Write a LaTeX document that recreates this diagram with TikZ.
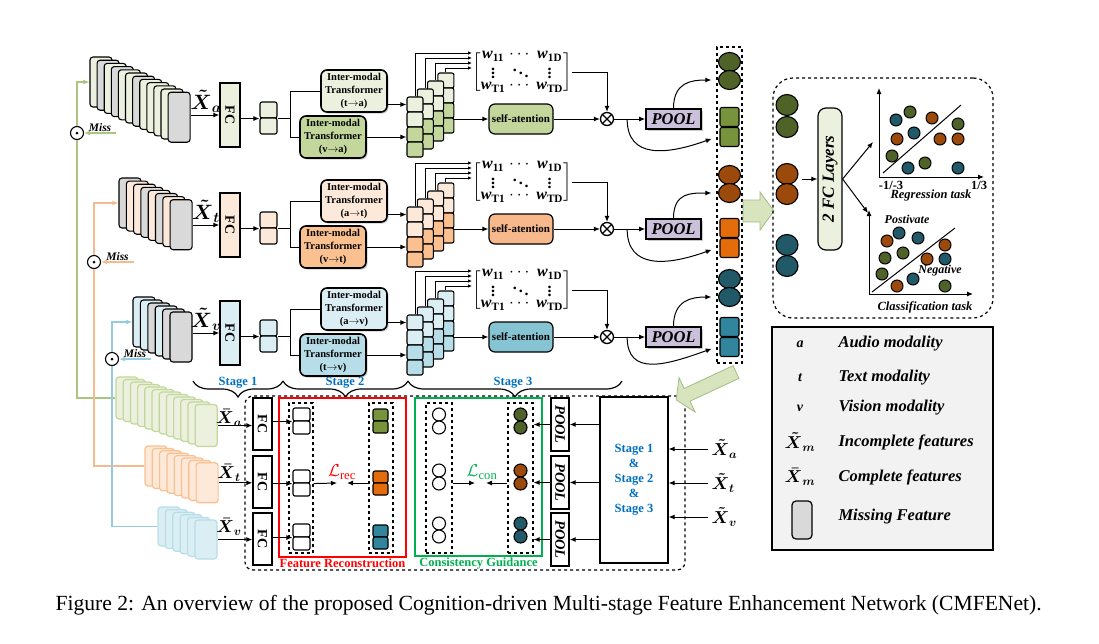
\documentclass[tikz,border=0pt]{standalone}
\usepackage{amsmath, amssymb}
\usepackage{fontspec}
\setmainfont{Liberation Serif}
\usepackage{xcolor}
\usetikzlibrary{shapes, arrows.meta, positioning, calc, shadows, decorations.pathreplacing}
\definecolor{lightA}{HTML}{EBF1DE}
\definecolor{midA}{HTML}{C3D69B}
\definecolor{attA}{HTML}{C3D69B}
\definecolor{circA}{HTML}{4F6228}
\definecolor{sqA}{HTML}{77933C}
\definecolor{lineA}{HTML}{A9C57F}
\definecolor{lightT}{HTML}{FDE9D9}
\definecolor{midT}{HTML}{FAC090}
\definecolor{attT}{HTML}{F7B98C}
\definecolor{circT}{HTML}{9C4A0C}
\definecolor{sqT}{HTML}{E46C0A}
\definecolor{lineT}{HTML}{F7BA8E}
\definecolor{lightV}{HTML}{DBEEF4}
\definecolor{midV}{HTML}{B7DEE8}
\definecolor{attV}{HTML}{86C4D4}
\definecolor{circV}{HTML}{215968}
\definecolor{sqV}{HTML}{31859C}
\definecolor{lineV}{HTML}{93CDDD}
\definecolor{grayc}{HTML}{D9D9D9}
\definecolor{poolc}{HTML}{CCC1DA}
\definecolor{blkfill}{HTML}{D7E4BD}
\definecolor{blkdraw}{HTML}{A3BC86}
\definecolor{stageblue}{HTML}{0070C0}
\definecolor{consgreen}{HTML}{00B050}
\definecolor{legendbg}{HTML}{F2F2F2}
\newcommand{\fsz}[2]{\fontsize{#1}{#2}\selectfont}
\newcommand{\wsub}[1]{\textbf{\textit{w}}_{\textbf{#1}}}
\newcommand{\wmatrix}{{\renewcommand{\arraystretch}{0.7}\setlength{\arraycolsep}{2pt}$\left[\begin{matrix}\wsub{11}&\cdots&\wsub{1D}\\\vdots&\ddots&\vdots\\\wsub{T1}&\cdots&\wsub{TD}\end{matrix}\right]$}}
\tikzset{
    arr/.style={-{Latex[length=6pt, width=5pt]}},
    arrs/.style={-{Latex[length=4pt, width=3.5pt]}},
    card/.style={
        draw,
        rounded corners=3pt,
        line width=1.1pt,
        minimum width=22pt,
        minimum height=50pt,
        inner sep=0pt,
    },
    cardb/.style={
        rounded corners=3pt,
        line width=1.2pt,
        minimum width=22pt,
        inner sep=0pt,
    },
    fcbox/.style={
        draw,
        line width=1.4pt,
        minimum width=20pt,
        minimum height=64pt,
        inner sep=0pt,
        font=\fsz{14}{14}\bfseries,
    },
    cell/.style={
        draw,
        rounded corners=2pt,
        line width=1.1pt,
        minimum width=16pt,
        minimum height=15pt,
        inner sep=0pt,
    },
    trans/.style={
        draw,
        rounded corners=6pt,
        line width=1.6pt,
        minimum width=66pt,
        minimum height=42pt,
        inner sep=0pt,
        align=center,
        font=\fsz{10.5}{13}\bfseries,
        drop shadow={shadow xshift=1.5pt, shadow yshift=-1.5pt, opacity=0.4},
    },
    attn/.style={
        draw,
        rounded corners=6pt,
        line width=1.2pt,
        minimum width=64pt,
        minimum height=30pt,
        inner sep=0pt,
        font=\fsz{11}{13}\bfseries,
    },
    pool/.style={
        draw,
        line width=1.6pt,
        fill=poolc,
        minimum width=55pt,
        minimum height=20pt,
        inner sep=0pt,
        font=\fsz{16.5}{17}\bfseries\itshape,
        drop shadow={shadow xshift=1.5pt, shadow yshift=-1.5pt, opacity=0.4},
    },
    otimes/.style={
        circle,
        draw,
        line width=1.3pt,
        minimum size=13pt,
        inner sep=0pt,
        fill=white,
        path picture={\draw[black, line width=1.1pt] (path picture bounding box.north west) -- (path picture bounding box.south east)
            (path picture bounding box.north east) -- (path picture bounding box.south west);},
    },
    odot/.style={
        circle,
        draw,
        line width=1.1pt,
        minimum size=13pt,
        inner sep=0pt,
        fill=white,
        path picture={\fill[black] (path picture bounding box.center) circle (1.5pt);},
    },
    bigcirc/.style={ellipse, draw, line width=1.1pt, minimum width=22pt, minimum height=19pt, inner sep=0pt},
    bigsq/.style={draw, rounded corners=2pt, line width=1.1pt, minimum size=19pt, inner sep=0pt},
    dashcol/.style={draw, dashed, line width=1.2pt, inner sep=0pt},
    wmat/.style={inner sep=0pt, font=\fsz{16}{16}\bfseries},
    misstext/.style={font=\fsz{11.5}{12}\bfseries\itshape, text=black, inner sep=1pt},
    dot/.style={circle, draw, line width=1pt, minimum size=12pt, inner sep=0pt},
    smallc/.style={circle, draw, line width=1.1pt, minimum size=13pt, inner sep=0pt},
    stagelbl/.style={font=\fsz{12.5}{13}\bfseries, text=stageblue, inner sep=0pt},
    plotlbl/.style={font=\fsz{12.5}{13}\bfseries\itshape, inner sep=1pt},
    lgtext/.style={anchor=west, font=\fsz{16.5}{17}\bfseries\itshape, inner sep=0pt},
}

\begin{document}
\begin{tikzpicture}[x=1pt, y=-1pt, line width=1pt]
\useasboundingbox (0,0) rectangle (1099,643);

\foreach \c [count=\i from 0] in {lightA,grayc,lightA,grayc,lightA,lightA,grayc,lightA,lightA,lightA,lightA,grayc}
    \node[card, fill=\c] (cardA\i) at ({101+7.1*\i},{82+3.2*\i}) {};
\foreach \c [count=\i from 0] in {grayc,lightT,lightT,grayc,lightT,grayc,lightT,grayc}
    \node[card, fill=\c] (cardT\i) at ({130+7.3*\i},{203+3.1*\i}) {};
\foreach \c [count=\i from 0] in {lightV,lightV,grayc,lightV,grayc,grayc}
    \node[card, fill=\c] (cardV\i) at ({144+7.4*\i},{322+3*\i}) {};

\node[dashcol, minimum width=25pt, minimum height=316pt] (colD) at (729.5,205) {};

\foreach \r/\lo/\dy/\ma/\mb/\last/\yc/\yq in {A/a/0/t/v/11/62/117, T/t/110/a/v/7/175/228, V/v/218/a/t/5/279/327}{
    \node[fcbox, fill=light\r] (fc\r) at (230,{115+\dy}) {\rotatebox{-90}{FC}};
    \node[font=\fsz{20}{20}, inner sep=0pt] (xt\r) at (206,{101+\dy}) {$\boldsymbol{\tilde{X}}_{\boldsymbol{\lo}}$};
    \draw[arr] (card\r\last.east |- fc\r.west) -- (fc\r.west);
    \node[cell, fill=light\r, minimum width=17pt, minimum height=16pt] (p\r1) at (268.5,{110+\dy}) {};
    \node[cell, fill=light\r, minimum width=17pt, minimum height=16pt] (p\r2) at (268.5,{126+\dy}) {};
    \draw[arr] (fc\r.east |- p\r1.south west) -- (p\r1.south west);
    \node[trans, fill=light\r] (t\r1) at (354,{91+\dy}) {Inter-modal\\Transformer\\(\ma$\rightarrow$\lo)};
    \node[trans, fill=mid\r] (t\r2) at (333,{137+\dy}) {Inter-modal\\Transformer\\(\mb$\rightarrow$\lo)};
    \draw (p\r1.south east) -- ++(13,0) coordinate (br\r);
    \draw (t\r1.west) -| (br\r) |- (t\r2.west);

    \foreach \j in {3,2,1,0}{
        \foreach \k in {0,...,3}{
            \ifnum\k<2 \def\cf{light\r}\else\def\cf{mid\r}\fi
            \node[cell, fill=\cf] (s\r\j\k) at ({415+10.3*\j},{104.5-8*\j+15*\k+\dy}) {};
        }
    }
    \draw[arr] (t\r1.east |- s\r00.west) -- (s\r00.west);
    \draw[arr] (t\r2.east) -- (t\r2.east -| s\r00.west);

    \node[wmat] (m\r) at (522,{72+\dy}) {\wmatrix};
    \foreach \j in {0,...,3}{
        \pgfmathsetmacro{\yy}{53+5*\j+\dy}
        \draw[arrs] (s\r\j0.north) |- (m\r.west |- 0,\yy);
    }

    \node[attn, fill=att\r] (sa\r) at (521,{119+\dy}) {self-atention};
    \node[otimes] (o\r) at (607,{119+\dy}) {};
    \node[pool] (pl\r) at (673.5,{119+\dy}) {POOL};
    \draw[arr] (s\r30.east |- sa\r.west) -- (sa\r.west);
    \draw[arr] (sa\r.east) -- (o\r.west);
    \draw[arr] (m\r.east) -| (o\r.north);
    \draw[arr] (o\r.east) -- (pl\r.west);

    \node[bigcirc, fill=circ\r] (c\r1) at (729.5,\yc) {};
    \node[bigcirc, fill=circ\r] (c\r2) at (729.5,{\yc+18}) {};
    \node[bigsq, fill=sq\r] (q\r1) at (729.5,\yq) {};
    \node[bigsq, fill=sq\r] (q\r2) at (729.5,{\yq+20}) {};
    \draw[arr, shorten >=5pt] (pl\r.north) .. controls +(0,-26) and +(-25,0) .. (c\r2.west -| colD.west);
    \draw[arr, shorten >=5pt] ([xshift=13pt]o\r.east) .. controls +(0,40) and +(-50,18) .. (q\r2.west -| colD.west);
}

\node[odot] (dotA) at (77,133) {};
\node[odot] (dotT) at (94,262) {};
\node[odot] (dotV) at (112,359) {};
\coordinate (missA) at (116,133);
\coordinate (missT) at (134,262);
\coordinate (missV) at (151,359);

\foreach \i in {0,...,11}
    \node[cardb, draw=midA, fill=lightA, minimum height=42pt] (cbA\i) at ({127+7.2*\i},{398+2.5*\i}) {};
\foreach \i in {0,...,7}
    \node[cardb, draw=midT, fill=lightT, minimum height=40pt] (cbT\i) at ({156+7.3*\i},{466+2.4*\i}) {};
\foreach \i in {0,...,5}
    \node[cardb, draw=midV, fill=lightV, minimum height=39pt] (cbV\i) at ({169+7.4*\i},{526.5+2.6*\i}) {};

\draw[arr, lineA, line width=1.5pt] (dotA.north) |- (cardA0.west);
\draw[arr, lineT, line width=1.5pt] (dotT.north) |- (cardT0.west);
\draw[arr, lineV, line width=1.5pt] (dotV.north) |- (cardV0.west);
\draw[lineA, line width=1.5pt] (dotA.south) |- (cbA0.west);
\draw[lineT, line width=1.5pt] (dotT.south) |- (cbT0.west);
\draw[lineV, line width=1.5pt] (dotV.south) |- (cbV0.west);
\draw[arr, lineA, line width=1.5pt] (missA) -- (dotA.east) node[misstext, midway, above] {Miss};
\draw[arr, lineT, line width=1.5pt] (missT) -- (dotT.east) node[misstext, midway, above] {Miss};
\draw[arr, lineV, line width=1.5pt] (missV) -- (dotV.east) node[misstext, midway, above] {Miss};

\draw[decorate, decoration={brace, mirror, amplitude=16pt}, line width=1.2pt] (193,381) -- (283,381);
\draw[decorate, decoration={brace, mirror, amplitude=16pt}, line width=1.2pt] (283,381) -- (408,381);
\draw[decorate, decoration={brace, mirror, amplitude=16pt}, line width=1.2pt] (408,381) -- (622,381);
\node[stagelbl] (stg1) at (238,383) {Stage 1};
\node[stagelbl] (stg2) at (345,383) {Stage 2};
\node[stagelbl] (stg3) at (513,383) {Stage 3};

\node[draw, dashed, rounded corners=8pt, line width=1.2pt, minimum width=440pt, minimum height=174pt] (bigB) at (465,483) {};
\node[draw=red, line width=1.2pt, minimum width=127pt, minimum height=159pt] (frec) at (342.5,477.5) {};
\node[font=\fsz{12.5}{13}\bfseries, text=red, anchor=north, inner sep=1pt] (freclbl) at (frec.south) {Feature Reconstruction};
\node[draw=consgreen, line width=1.2pt, minimum width=127pt, minimum height=158pt] (fcon) at (478.5,477) {};
\node[font=\fsz{12.5}{13}\bfseries, text=consgreen, anchor=north, inner sep=1pt] (fconlbl) at (fcon.south) {Consistency Guidance};
\node[dashcol, minimum width=24pt, minimum height=150pt] (dl1) at (301,478) {};
\node[dashcol, minimum width=24pt, minimum height=150pt] (dr1) at (381,478) {};
\node[dashcol, minimum width=26pt, minimum height=150pt] (dl2) at (439,478) {};
\node[dashcol, minimum width=25pt, minimum height=150pt] (dr2) at (520.5,478) {};

\node[draw, line width=1.2pt, fill=white, minimum width=68pt, minimum height=166pt, align=center, text=stageblue, font=\fsz{12.5}{15}\bfseries] (stg) at (634,480) {Stage 1\\\&\\Stage 2\\\&\\Stage 3};

\foreach \r/\lo/\yf/\yp/\yc/\yx in {A/a/424/421/421/449, T/t/482/483/477/483, V/v/539/537/530/517}{
    \node[fcbox, fill=white, minimum width=19pt, minimum height=52pt] (fb\r) at (262.5,\yf) {\rotatebox{-90}{FC}};
    \node[cell, fill=white, minimum width=17pt, minimum height=13pt] (wp\r1) at (301.5,{\yp-6.5}) {};
    \node[cell, fill=white, minimum width=17pt, minimum height=13pt] (wp\r2) at (301.5,{\yp+6.5}) {};
    \draw[arr] (fb\r.east |- wp\r1.south west) -- (wp\r1.south west);
    \node[cell, fill=sq\r, minimum width=15pt, minimum height=12pt] (cp\r1) at (380.5,{\yp-6}) {};
    \node[cell, fill=sq\r, minimum width=15pt, minimum height=12pt] (cp\r2) at (380.5,{\yp+6}) {};
    \node[smallc, fill=white] (wc\r1) at (439,{\yc-6.5}) {};
    \node[smallc, fill=white] (wc\r2) at (439,{\yc+6.5}) {};
    \node[smallc, fill=circ\r] (cc\r1) at (520.5,{\yc-6.5}) {};
    \node[smallc, fill=circ\r] (cc\r2) at (520.5,{\yc+6.5}) {};
    \node[fcbox, fill=white, minimum width=18pt, minimum height=53pt, font=\fsz{14.5}{15}\bfseries\itshape] (bp\r) at (560,{\yf+0.5}) {\rotatebox{-90}{POOL}};
    \draw[arr] (bp\r.west) -- (bp\r.west -| dr2.east);
    \draw[arr] (stg.west |- bp\r.east) -- (bp\r.east);
    \node[font=\fsz{18}{18}, anchor=west, inner sep=0pt] (xin\r) at (711,\yx) {$\boldsymbol{\tilde{X}}_{\boldsymbol{\lo}}$};
    \draw[arr] ([xshift=-3pt]xin\r.west) -- (stg.east |- xin\r.west);
}
\draw[arr] (cbA11.east) -- (cbA11.east -| fbA.west);
\draw[arr] (cbT7.east) -- (cbT7.east -| fbT.west);
\draw[arr] (cbV5.east) -- (cbV5.east -| fbV.west);
\node[font=\fsz{18}{18}, inner sep=0pt] (xbA) at (229,418) {$\boldsymbol{\bar{X}}_{\boldsymbol{a}}$};
\node[font=\fsz{18}{18}, inner sep=0pt] (xbT) at (229,473) {$\boldsymbol{\bar{X}}_{\boldsymbol{t}}$};
\node[font=\fsz{18}{18}, inner sep=0pt] (xbV) at (229,527) {$\boldsymbol{\bar{X}}_{\boldsymbol{v}}$};

\node[font=\fsz{18}{18}, text=red] (lrec) at (342,472) {$\mathcal{L}_{\mathrm{rec}}$};
\coordinate (lrecL) at (337,483);
\coordinate (lrecR) at (347,483);
\draw[arr] (wpT1.south east -| dl1.east) -- (lrecL);
\draw[arr] (dr1.west |- lrecR) -- (lrecR);
\node[font=\fsz{18}{18}, text=consgreen] (lcon) at (482,472) {$\mathcal{L}_{\mathrm{con}}$};
\coordinate (lconL) at (475,483);
\coordinate (lconR) at (486,483);
\draw[arr] (dl2.east |- lconL) -- (lconL);
\draw[arr] (dr2.west |- lconR) -- (lconR);

\fill[blkfill, draw=blkdraw, line width=0.8pt] (743,200) -- (760,200) -- (760,192) -- (774,211) -- (760,230) -- (760,222) -- (743,222) -- cycle;
\begin{scope}[shift={(736,372)}, rotate=205]
    \fill[blkfill, draw=blkdraw, line width=0.8pt] (0,-7) -- (54,-7) -- (54,-19) -- (66,0) -- (54,19) -- (54,7) -- (0,7) -- cycle;
\end{scope}

\node[draw, dashed, rounded corners=20pt, line width=1.2pt, minimum width=220pt, minimum height=240pt] (rbox) at (883,198) {};
\foreach \c/\y [count=\i] in {circA/105, circA/127, circT/174, circT/194, circV/245, circV/266}
    \node[bigcirc, fill=\c, minimum height=21pt] (rc\i) at (787,\y) {};
\node[draw, rounded corners=8pt, line width=1.2pt, fill=lightA, minimum width=24pt, minimum height=142pt, inner sep=0pt, font=\fsz{17}{17}\bfseries\itshape] (fcl) at (830,179) {\rotatebox{90}{2 FC Layers}};
\draw[arr] ([xshift=3pt]rc3.east |- fcl.west) -- (fcl.west);
\coordinate (regtip) at (873,142);
\coordinate (clstip) at (868,213);
\draw[arr] (fcl.east) -- (regtip);
\draw[arr] (fcl.east) -- (clstip);

\coordinate (rO) at (879,177);
\coordinate (rY) at (879,88);
\coordinate (rX) at (984,177);
\draw[arr] (rO) -- (rY);
\draw[arr] (rO) -- (rX);
\draw (883,173) -- (961,105);
\foreach \c/\x/\y in {circV/896/120, circA/910/112, circT/932/118, circA/958/124, circT/897/139, circV/914/133, circT/940/139, circT/958/139, circA/892/156, circV/908/168, circA/925/163, circV/958/168}
    \node[dot, fill=\c] at (\x,\y) {};
\node[font=\fsz{12.5}{13}\bfseries, inner sep=1pt] (rmin) at (891,185) {-1/-3};
\node[font=\fsz{12.5}{13}\bfseries, inner sep=1pt] (rmax) at (979,185) {1/3};
\node[plotlbl] (rlbl) at (931,195) {Regression task};

\coordinate (cO) at (869,294);
\coordinate (cY) at (869,210);
\coordinate (cX) at (973,294);
\draw[arr] (cO) -- (cY);
\draw[arr] (cO) -- (cX);
\draw (872,292) -- (955,228);
\foreach \c/\x/\y in {circT/887/241, circV/899/233, circV/918/238, circT/945/245, circA/885/258, circA/903/253, circT/927/259, circV/945/259, circA/882/274, circT/897/286, circV/913/279, circA/945/286}
    \node[dot, fill=\c] at (\x,\y) {};
\node[plotlbl, font=\fsz{12}{13}\bfseries\itshape] (pos) at (907,219) {Postivate};
\node[plotlbl, font=\fsz{12}{13}\bfseries\itshape] (neg) at (940,271) {Negative};
\node[plotlbl] (clbl) at (925,307) {Classification task};

\node[draw, fill=legendbg, line width=1.2pt, minimum width=221pt, minimum height=223pt] (lgd) at (882.5,438.5) {};
\node[font=\fsz{14}{14}\bfseries\itshape] (lga) at (800,344) {a};
\node[font=\fsz{14}{14}\bfseries\itshape] (lgt) at (800,378) {t};
\node[font=\fsz{14}{14}\bfseries\itshape] (lgv) at (800,408) {v};
\node[font=\fsz{18}{18}, inner sep=0pt] (lgx1) at (800,442) {$\boldsymbol{\tilde{X}}_{\boldsymbol{m}}$};
\node[font=\fsz{18}{18}, inner sep=0pt] (lgx2) at (800,477) {$\boldsymbol{\bar{X}}_{\boldsymbol{m}}$};
\node[draw, fill=grayc, rounded corners=4pt, line width=1.2pt, minimum width=20pt, minimum height=38pt, inner sep=0pt] (lgm) at (802,520) {};
\node[lgtext] at (838,344) {Audio modality};
\node[lgtext] at (838,378) {Text modality};
\node[lgtext] at (838,408) {Vision modality};
\node[lgtext] at (838,442) {Incomplete features};
\node[lgtext] at (838,477) {Complete features};
\node[lgtext] at (838,517) {Missing Feature};

\node[anchor=west, inner sep=0pt, font=\fsz{21.6}{24}] (cap) at (55,605) {Figure 2: An overview of the proposed Cognition-driven Multi-stage Feature Enhancement Network (CMFENet).};
\end{tikzpicture}
\end{document}
